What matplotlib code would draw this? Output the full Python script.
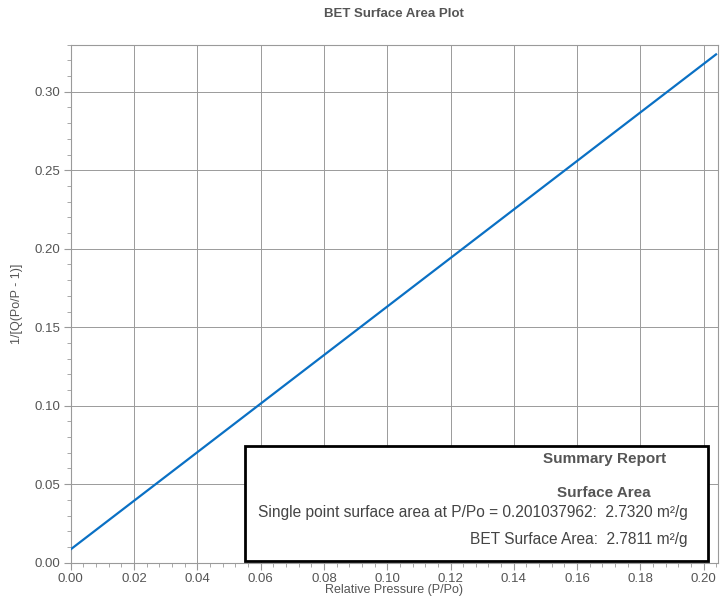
import matplotlib.pyplot as plt
from matplotlib.ticker import MultipleLocator
from matplotlib.patches import Rectangle

plt.rcParams['font.family'] = ['Liberation Sans', 'DejaVu Sans']

# fitted BET line (end points)
rel_pressure = [0.0, 0.2039]
bet_value = [0.0085, 0.3238]

title = 'BET Surface Area Plot'
xlabel = 'Relative Pressure (P/Po)'
ylabel = '1/[Q(Po/P - 1)]'
report_lines = ['Single point surface area at P/Po = 0.201037962:  2.7320 m\u00b2/g',
                'BET Surface Area:  2.7811 m\u00b2/g']

txt = '#555555'
grid = '#9a9a9a'

fig = plt.figure(figsize=(7.23, 5.97), dpi=100)
ax = fig.add_axes([0.0978, 0.0575, 0.8952, 0.8677])

ax.plot(rel_pressure, bet_value, color='#0a70c4', lw=1.6, zorder=3)

ax.set_xlim(0, 0.2045)
ax.set_ylim(0, 0.330)
ax.xaxis.set_major_locator(MultipleLocator(0.02))
ax.xaxis.set_minor_locator(MultipleLocator(0.004))
ax.yaxis.set_major_locator(MultipleLocator(0.05))
ax.yaxis.set_minor_locator(MultipleLocator(0.01))
ax.xaxis.set_major_formatter(lambda v, p: f'{v:.2f}')
ax.yaxis.set_major_formatter(lambda v, p: f'{v:.2f}')

ax.grid(which='major', color=grid, lw=0.7)
for s in ax.spines.values():
    s.set_color(grid)
    s.set_linewidth(0.8)
ax.tick_params(which='major', length=5, color=grid, labelsize=9.5, labelcolor=txt, pad=2.5)
ax.tick_params(which='minor', length=3, color=grid)

ax.set_title(title, fontsize=9.5, fontweight='bold', color=txt, pad=20)
ax.set_xlabel(xlabel, fontsize=9, color=txt, labelpad=-1)
ax.set_ylabel(ylabel, fontsize=9, color=txt, labelpad=8)

# summary report box
box = Rectangle((0.269, 0.003), 0.716, 0.222, transform=ax.transAxes,
                facecolor='white', edgecolor='black', lw=2, zorder=5)
ax.add_patch(box)

def px(x, y):
    # figure pixel -> axes fraction
    return (x - 70.7) / 647.3, (562.7 - y) / 518.0

ax.text(*px(605, 459), 'Summary Report', transform=ax.transAxes, ha='center', va='center',
        fontsize=11, fontweight='bold', color=txt, zorder=6)
ax.text(*px(604, 493), 'Surface Area', transform=ax.transAxes, ha='center', va='center',
        fontsize=11, fontweight='bold', color=txt, zorder=6)
ax.text(*px(688, 513), report_lines[0], transform=ax.transAxes, ha='right', va='center',
        fontsize=11.2, color='#444444', zorder=6)
ax.text(*px(688, 540), report_lines[1], transform=ax.transAxes, ha='right', va='center',
        fontsize=11.2, color='#444444', zorder=6)

fig.savefig('out.png', dpi=100)
